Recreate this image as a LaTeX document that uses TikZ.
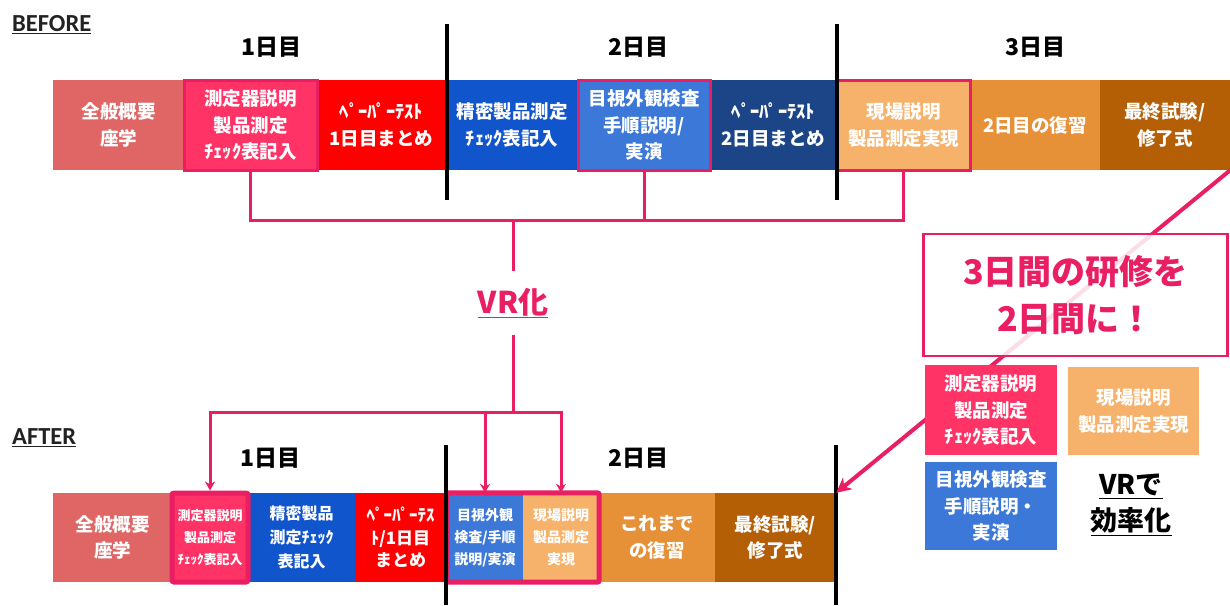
\documentclass[tikz,border=0pt]{standalone}
\usepackage{fontspec}
\setmainfont{Noto Sans CJK JP}
\newfontfamily\latinfont{Carlito}
\usetikzlibrary{arrows.meta,fit}
\definecolor{cpink}{HTML}{E91E63}
\definecolor{cpinkfill}{HTML}{FF3366}
\definecolor{csalmon}{HTML}{E06666}
\definecolor{cred}{HTML}{FF0000}
\definecolor{cblue}{HTML}{1155CC}
\definecolor{clblue}{HTML}{3C78D8}
\definecolor{cdblue}{HTML}{1C4587}
\definecolor{clorange}{HTML}{F6B26B}
\definecolor{corange}{HTML}{E69138}
\definecolor{cdorange}{HTML}{B45F06}
\definecolor{clabel}{HTML}{222222}
\begin{document}
\begin{tikzpicture}[x=1pt,y=-1pt,
  box/.style={rectangle, inner sep=0pt, align=center, text=white,
    font=\bfseries\fontsize{18.5}{26.5}\selectfont},
  bbox/.style={box, minimum height=90pt},
  abox/.style={box, minimum height=89pt},
  hl/.style={draw=cpink, line width=3pt},
  daylbl/.style={font=\bfseries\fontsize{23}{23}\selectfont, text=black, inner sep=0pt},
  sectlbl/.style={font=\latinfont\bfseries\fontsize{24.5}{24.5}\selectfont, text=clabel, inner sep=0pt, anchor=west},
  divider/.style={line width=4.5pt, black},
  conn/.style={draw=cpink, line width=3pt},
  tip/.style={-{Stealth[length=9pt,width=10pt]}},
  diag/.style={draw=cpink, line width=4pt, -{Stealth[length=15pt,width=15pt]}},
  callout/.style={rectangle, draw=cpink, line width=2.5pt, fill=white, fill opacity=0.85,
    text opacity=1, draw opacity=1, text=cpink, align=center, inner sep=0pt,
    font=\bfseries\fontsize{34}{47}\selectfont},
]
\useasboundingbox (0,0) rectangle (1230,605);

% ---------- BEFORE ----------
\node[sectlbl] (before) at (12,25) {\underline{BEFORE}};
\node[daylbl] (d1) at (271,47) {1日目};
\node[daylbl] (d2) at (638,47) {2日目};
\node[daylbl] (d3) at (1035,47) {3日目};

\node[bbox, fill=csalmon, minimum width=131pt] (b1) at (118.5,125) {全般概要\\座学};
\node[bbox, fill=cred, minimum width=129pt] (b3) at (381.5,125) {ﾍﾟｰﾊﾟｰﾃｽﾄ\\1日目まとめ};
\node[bbox, fill=cblue, minimum width=132pt] (b4) at (512,125) {精密製品測定\\ﾁｪｯｸ表記入};
\node[bbox, fill=cdblue, minimum width=127pt] (b6) at (773.5,125) {ﾍﾟｰﾊﾟｰﾃｽﾄ\\2日目まとめ};
\node[bbox, fill=corange, minimum width=130pt] (b8) at (1035,125) {2日目の復習};
\node[bbox, fill=cdorange, minimum width=130pt] (b9) at (1165,125) {最終試験/\\修了式};
\node[bbox, hl, fill=cpinkfill, minimum width=133pt] (b2) at (250.5,125) {測定器説明\\製品測定\\ﾁｪｯｸ表記入};
\node[bbox, hl, fill=clblue, minimum width=132pt] (b5) at (644,125) {目視外観検査\\手順説明/\\実演};
\node[bbox, hl, fill=clorange, minimum width=133pt] (b7) at (903.5,125) {現場説明\\製品測定実現};

\draw[divider] (447,24) -- (447,200);
\draw[divider] (837,24) -- (837,200);

% ---------- VR connectors ----------
\coordinate (vtop) at (513,220);
\coordinate (vbot) at (513,412);
\node[font=\bfseries\fontsize{30}{30}\selectfont, text=cpink, inner sep=0pt, minimum height=63pt] (vr) at (513,303) {\underline{VR化}};

% ---------- AFTER ----------
\node[sectlbl] (after) at (12,438) {\underline{AFTER}};
\node[daylbl] (e1) at (270,458) {1日目};
\node[daylbl] (e2) at (638,458) {2日目};

\node[abox, fill=csalmon, minimum width=119pt] (a1) at (112.5,537.5) {全般概要\\座学};
\node[abox, fill=cblue, minimum width=107pt, font=\bfseries\fontsize{16}{24}\selectfont] (a3) at (301.5,537.5) {精密製品\\測定ﾁｪｯｸ\\表記入};
\node[abox, fill=cred, minimum width=91pt, font=\bfseries\fontsize{17}{22.5}\selectfont] (a4) at (400.5,537.5) {ﾍﾟｰﾊﾟｰﾃｽ\\ﾄ/1日目\\まとめ};
\node[abox, fill=clblue, minimum width=76pt, font=\bfseries\fontsize{14}{22}\selectfont] (a5) at (485,537.5) {目視外観\\検査/手順\\説明/実演};
\node[abox, fill=clorange, minimum width=76pt, font=\bfseries\fontsize{14}{22}\selectfont] (a6) at (561,537.5) {現場説明\\製品測定\\実現};
\node[abox, fill=corange, minimum width=116pt] (a7) at (657,537.5) {これまで\\の復習};
\node[abox, fill=cdorange, minimum width=121pt] (a8) at (775.5,537.5) {最終試験/\\修了式};
\node[abox, fill=cpinkfill, draw=cpink, line width=5pt, rounded corners=2pt, minimum width=76pt,
  font=\bfseries\fontsize{13}{22}\selectfont] (a2) at (210,537.5) {測定器説明\\製品測定\\ﾁｪｯｸ表記入};
\node[draw=cpink, line width=5pt, rounded corners=2pt, inner sep=0pt, fit=(a5)(a6)] (grp) {};

\draw[divider] (446,445) -- (446,605);
\draw[divider] (836,445) -- (836,605);

% connectors
\draw[conn] (b2.south) |- (vtop) -| (b7.south);
\draw[conn] (b5.south) -- (b5.south |- vtop);
\draw[conn] (vtop) -- (vr.north);
\draw[conn] (vr.south) -- (vbot);
\draw[conn, tip] (vbot) -| (a2.north);
\draw[conn, tip] (vbot) -| (a5.north);
\draw[conn, tip] (vbot) -| (a6.north);

% ---------- diagonal + callout ----------
\draw[diag] (b9.south east) -- (a8.north east);
\node[callout, minimum width=304pt, minimum height=122pt] (call) at (1075.5,295) {3日間の研修を\\2日間に！};

\node[box, fill=cpinkfill, minimum width=132pt, minimum height=90pt] (r1) at (991,410) {測定器説明\\製品測定\\ﾁｪｯｸ表記入};
\node[box, fill=clorange, minimum width=131pt, minimum height=88pt] (r2) at (1133.5,411) {現場説明\\製品測定実現};
\node[box, fill=clblue, minimum width=132pt, minimum height=88pt] (r3) at (991,506) {目視外観検査\\手順説明・\\実演};
\node[align=center, inner sep=0pt, text=black, font=\bfseries\fontsize{27}{36}\selectfont] (eff) at (1131,505) {\underline{VRで}\\\underline{効率化}};
\end{tikzpicture}
\end{document}
